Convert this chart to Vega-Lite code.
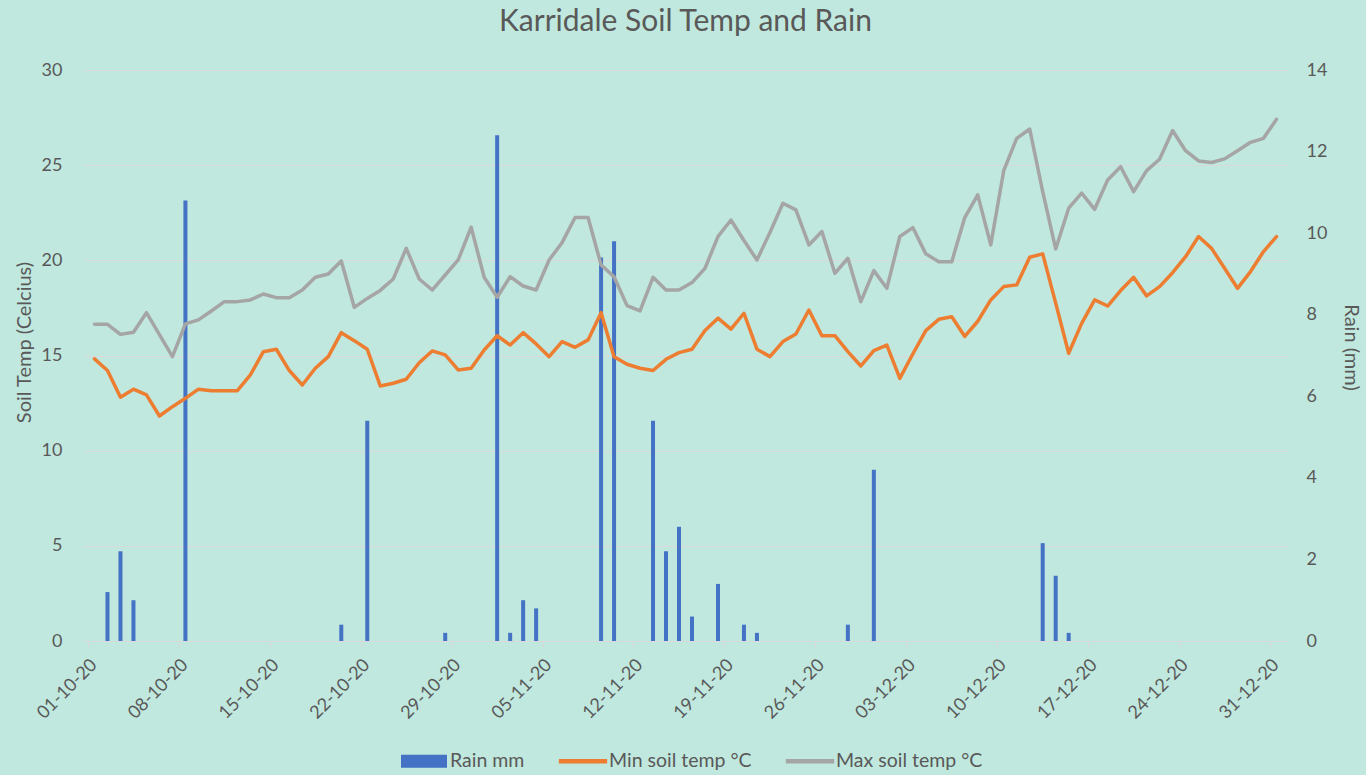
{
  "$schema": "https://vega.github.io/schema/vega-lite/v6.json",
  "width": 1205,
  "height": 571,
  "autosize": {"type": "none"},
  "padding": {"left": 83, "top": 70, "right": 78, "bottom": 134},
  "background": "#c0e8de",
  "title": {"text": "Karridale Soil Temp and Rain", "font": "Lato", "fontSize": 30, "fontWeight": "normal", "color": "#595959", "anchor": "middle", "offset": 24},
  "config": {
    "view": {"stroke": null},
    "font": "Lato",
    "axis": {"labelFont": "Lato", "titleFont": "Lato", "labelFontSize": 18, "titleFontSize": 20, "labelColor": "#595959", "titleColor": "#595959", "titleFontWeight": "normal"}
  },
  "data": {"values": [
    {"date": "2020-10-01", "rain": 0, "min": 14.82, "max": 16.64},
    {"date": "2020-10-02", "rain": 1.2, "min": 14.21, "max": 16.64},
    {"date": "2020-10-03", "rain": 2.2, "min": 12.81, "max": 16.11},
    {"date": "2020-10-04", "rain": 1.0, "min": 13.23, "max": 16.22},
    {"date": "2020-10-05", "rain": 0, "min": 12.93, "max": 17.25},
    {"date": "2020-10-06", "rain": 0, "min": 11.82, "max": 16.1},
    {"date": "2020-10-07", "rain": 0, "min": 12.31, "max": 14.94},
    {"date": "2020-10-08", "rain": 10.8, "min": 12.75, "max": 16.66},
    {"date": "2020-10-09", "rain": 0, "min": 13.23, "max": 16.87},
    {"date": "2020-10-10", "rain": 0, "min": 13.15, "max": 17.34},
    {"date": "2020-10-11", "rain": 0, "min": 13.15, "max": 17.83},
    {"date": "2020-10-12", "rain": 0, "min": 13.15, "max": 17.83},
    {"date": "2020-10-13", "rain": 0, "min": 13.98, "max": 17.92},
    {"date": "2020-10-14", "rain": 0, "min": 15.2, "max": 18.23},
    {"date": "2020-10-15", "rain": 0, "min": 15.33, "max": 18.04},
    {"date": "2020-10-16", "rain": 0, "min": 14.21, "max": 18.04},
    {"date": "2020-10-17", "rain": 0, "min": 13.45, "max": 18.44},
    {"date": "2020-10-18", "rain": 0, "min": 14.33, "max": 19.11},
    {"date": "2020-10-19", "rain": 0, "min": 14.94, "max": 19.28},
    {"date": "2020-10-20", "rain": 0.4, "min": 16.2, "max": 19.97},
    {"date": "2020-10-21", "rain": 0, "min": 15.78, "max": 17.53},
    {"date": "2020-10-22", "rain": 5.4, "min": 15.33, "max": 18.0},
    {"date": "2020-10-23", "rain": 0, "min": 13.4, "max": 18.42},
    {"date": "2020-10-24", "rain": 0, "min": 13.54, "max": 19.02},
    {"date": "2020-10-25", "rain": 0, "min": 13.75, "max": 20.63},
    {"date": "2020-10-26", "rain": 0, "min": 14.62, "max": 19.02},
    {"date": "2020-10-27", "rain": 0, "min": 15.24, "max": 18.44},
    {"date": "2020-10-28", "rain": 0.2, "min": 15.03, "max": 19.23},
    {"date": "2020-10-29", "rain": 0, "min": 14.24, "max": 20.02},
    {"date": "2020-10-30", "rain": 0, "min": 14.33, "max": 21.74},
    {"date": "2020-10-31", "rain": 0, "min": 15.29, "max": 19.11},
    {"date": "2020-11-01", "rain": 12.4, "min": 16.04, "max": 18.06},
    {"date": "2020-11-02", "rain": 0.2, "min": 15.55, "max": 19.14},
    {"date": "2020-11-03", "rain": 1.0, "min": 16.2, "max": 18.65},
    {"date": "2020-11-04", "rain": 0.8, "min": 15.61, "max": 18.44},
    {"date": "2020-11-05", "rain": 0, "min": 14.94, "max": 20.02},
    {"date": "2020-11-06", "rain": 0, "min": 15.73, "max": 20.93},
    {"date": "2020-11-07", "rain": 0, "min": 15.43, "max": 22.25},
    {"date": "2020-11-08", "rain": 0, "min": 15.82, "max": 22.25},
    {"date": "2020-11-09", "rain": 9.4, "min": 17.25, "max": 19.76},
    {"date": "2020-11-10", "rain": 9.8, "min": 14.94, "max": 19.14},
    {"date": "2020-11-11", "rain": 0, "min": 14.54, "max": 17.62},
    {"date": "2020-11-12", "rain": 0, "min": 14.33, "max": 17.34},
    {"date": "2020-11-13", "rain": 5.4, "min": 14.21, "max": 19.11},
    {"date": "2020-11-14", "rain": 2.2, "min": 14.8, "max": 18.44},
    {"date": "2020-11-15", "rain": 2.8, "min": 15.15, "max": 18.44},
    {"date": "2020-11-16", "rain": 0.6, "min": 15.33, "max": 18.83},
    {"date": "2020-11-17", "rain": 0, "min": 16.31, "max": 19.58},
    {"date": "2020-11-18", "rain": 1.4, "min": 16.96, "max": 21.25},
    {"date": "2020-11-19", "rain": 0, "min": 16.39, "max": 22.12},
    {"date": "2020-11-20", "rain": 0.4, "min": 17.22, "max": 21.04},
    {"date": "2020-11-21", "rain": 0.2, "min": 15.33, "max": 20.02},
    {"date": "2020-11-22", "rain": 0, "min": 14.94, "max": 21.46},
    {"date": "2020-11-23", "rain": 0, "min": 15.73, "max": 23.0},
    {"date": "2020-11-24", "rain": 0, "min": 16.13, "max": 22.65},
    {"date": "2020-11-25", "rain": 0, "min": 17.39, "max": 20.81},
    {"date": "2020-11-26", "rain": 0, "min": 16.04, "max": 21.51},
    {"date": "2020-11-27", "rain": 0, "min": 16.04, "max": 19.32},
    {"date": "2020-11-28", "rain": 0.4, "min": 15.2, "max": 20.11},
    {"date": "2020-11-29", "rain": 0, "min": 14.45, "max": 17.83},
    {"date": "2020-11-30", "rain": 4.2, "min": 15.26, "max": 19.46},
    {"date": "2020-12-01", "rain": 0, "min": 15.55, "max": 18.53},
    {"date": "2020-12-02", "rain": 0, "min": 13.8, "max": 21.25},
    {"date": "2020-12-03", "rain": 0, "min": 15.08, "max": 21.72},
    {"date": "2020-12-04", "rain": 0, "min": 16.31, "max": 20.34},
    {"date": "2020-12-05", "rain": 0, "min": 16.9, "max": 19.93},
    {"date": "2020-12-06", "rain": 0, "min": 17.04, "max": 19.93},
    {"date": "2020-12-07", "rain": 0, "min": 16.0, "max": 22.25},
    {"date": "2020-12-08", "rain": 0, "min": 16.8, "max": 23.44},
    {"date": "2020-12-09", "rain": 0, "min": 17.92, "max": 20.81},
    {"date": "2020-12-10", "rain": 0, "min": 18.62, "max": 24.71},
    {"date": "2020-12-11", "rain": 0, "min": 18.71, "max": 26.41},
    {"date": "2020-12-12", "rain": 0, "min": 20.16, "max": 26.9},
    {"date": "2020-12-13", "rain": 2.4, "min": 20.34, "max": 23.61},
    {"date": "2020-12-14", "rain": 1.6, "min": 17.75, "max": 20.6},
    {"date": "2020-12-15", "rain": 0.2, "min": 15.12, "max": 22.74},
    {"date": "2020-12-16", "rain": 0, "min": 16.69, "max": 23.53},
    {"date": "2020-12-17", "rain": 0, "min": 17.92, "max": 22.68},
    {"date": "2020-12-18", "rain": 0, "min": 17.6, "max": 24.22},
    {"date": "2020-12-19", "rain": 0, "min": 18.41, "max": 24.92},
    {"date": "2020-12-20", "rain": 0, "min": 19.11, "max": 23.61},
    {"date": "2020-12-21", "rain": 0, "min": 18.13, "max": 24.71},
    {"date": "2020-12-22", "rain": 0, "min": 18.62, "max": 25.31},
    {"date": "2020-12-23", "rain": 0, "min": 19.35, "max": 26.82},
    {"date": "2020-12-24", "rain": 0, "min": 20.19, "max": 25.76},
    {"date": "2020-12-25", "rain": 0, "min": 21.25, "max": 25.22},
    {"date": "2020-12-26", "rain": 0, "min": 20.63, "max": 25.14},
    {"date": "2020-12-27", "rain": 0, "min": 19.58, "max": 25.33},
    {"date": "2020-12-28", "rain": 0, "min": 18.53, "max": 25.76},
    {"date": "2020-12-29", "rain": 0, "min": 19.41, "max": 26.2},
    {"date": "2020-12-30", "rain": 0, "min": 20.46, "max": 26.41},
    {"date": "2020-12-31", "rain": 0, "min": 21.25, "max": 27.41}
  ]},
  "encoding": {
    "x": {
      "field": "date",
      "type": "temporal",
      "scale": {"type": "utc", "domain": [{"year": 2020, "month": 9, "date": 30, "hours": 12, "utc": true}, {"year": 2020, "month": 12, "date": 31, "hours": 12, "utc": true}]},
      "axis": {
        "title": null,
        "values": [
          {"year": 2020, "month": 10, "date": 1, "utc": true},
          {"year": 2020, "month": 10, "date": 8, "utc": true},
          {"year": 2020, "month": 10, "date": 15, "utc": true},
          {"year": 2020, "month": 10, "date": 22, "utc": true},
          {"year": 2020, "month": 10, "date": 29, "utc": true},
          {"year": 2020, "month": 11, "date": 5, "utc": true},
          {"year": 2020, "month": 11, "date": 12, "utc": true},
          {"year": 2020, "month": 11, "date": 19, "utc": true},
          {"year": 2020, "month": 11, "date": 26, "utc": true},
          {"year": 2020, "month": 12, "date": 3, "utc": true},
          {"year": 2020, "month": 12, "date": 10, "utc": true},
          {"year": 2020, "month": 12, "date": 17, "utc": true},
          {"year": 2020, "month": 12, "date": 24, "utc": true},
          {"year": 2020, "month": 12, "date": 31, "utc": true}
        ],
        "labelExpr": "utcFormat(datum.value, '%d-%m-%y')",
        "labelAngle": -45,
        "labelAlign": "right",
        "labelBaseline": "middle",
        "tickOffset": -6.55,
        "labelOffset": 6,
        "labelPadding": 15,
        "ticks": true,
        "tickSize": 6,
        "tickColor": "#d9d9d9",
        "domainColor": "#d9d9d9",
        "domainWidth": 1,
        "grid": false,
        "labelOverlap": false,
        "labelBound": false,
        "labelFlush": false
      }
    }
  },
  "layer": [
    {
      "mark": {"type": "bar", "size": 4},
      "encoding": {
        "y": {
          "field": "rain",
          "type": "quantitative",
          "scale": {"domain": [0, 14], "nice": false},
          "axis": {"orient": "right", "title": "Rain (mm)", "values": [0, 2, 4, 6, 8, 10, 12, 14], "ticks": false, "domain": false, "grid": false, "labelPadding": 18, "titlePadding": 14, "titleY": 277}
        },
        "color": {
          "datum": "Rain mm",
          "type": "nominal",
          "scale": {"domain": ["Rain mm", "Min soil temp °C", "Max soil temp °C"], "range": ["#4472C4", "#ED7D31", "#A5A5A5"]},
          "legend": {
            "orient": "none",
            "legendX": 318,
            "legendY": 668,
            "direction": "horizontal",
            "title": null,
            "symbolSize": 2116,
            "labelFont": "Lato",
            "labelFontSize": 19.5,
            "labelColor": "#595959",
            "columnPadding": 33,
            "labelOffset": 3,
            "padding": 0,
            "encode": {
              "symbols": {
                "update": {
                  "shape": {"signal": "datum.value === 'Rain mm' ? 'M-1,-0.28H1V0.28H-1Z' : 'M-1.05,-0.1H1.05V0.1H-1.05Z'"},
                  "fill": {"scale": "color", "field": "value"},
                  "stroke": {"value": "transparent"},
                  "strokeWidth": {"value": 0},
                  "opacity": {"value": 1},
                  "fillOpacity": {"value": 1}
                }
              }
            }
          }
        }
      }
    },
    {
      "layer": [
        {
          "mark": {"type": "line", "strokeWidth": 3.5, "strokeJoin": "round", "strokeCap": "round"},
          "encoding": {
            "y": {
              "field": "min",
              "type": "quantitative",
              "scale": {"domain": [0, 30], "nice": false},
              "axis": {"orient": "left", "title": "Soil Temp (Celcius)", "values": [0, 5, 10, 15, 20, 25, 30], "ticks": false, "domain": false, "grid": true, "gridColor": "#d9d9d9", "gridWidth": 1, "labelPadding": 21, "titlePadding": 7, "titleY": 272}
            },
            "color": {"datum": "Min soil temp °C", "type": "nominal"}
          }
        },
        {
          "mark": {"type": "line", "strokeWidth": 3.5, "strokeJoin": "round", "strokeCap": "round"},
          "encoding": {
            "y": {
              "field": "max",
              "type": "quantitative",
              "scale": {"domain": [0, 30], "nice": false},
              "axis": {"orient": "left", "title": "Soil Temp (Celcius)", "values": [0, 5, 10, 15, 20, 25, 30], "ticks": false, "domain": false, "grid": true, "gridColor": "#d9d9d9", "gridWidth": 1, "labelPadding": 21, "titlePadding": 7, "titleY": 272}
            },
            "color": {"datum": "Max soil temp °C", "type": "nominal"}
          }
        }
      ]
    }
  ],
  "resolve": {"scale": {"y": "independent"}}
}
